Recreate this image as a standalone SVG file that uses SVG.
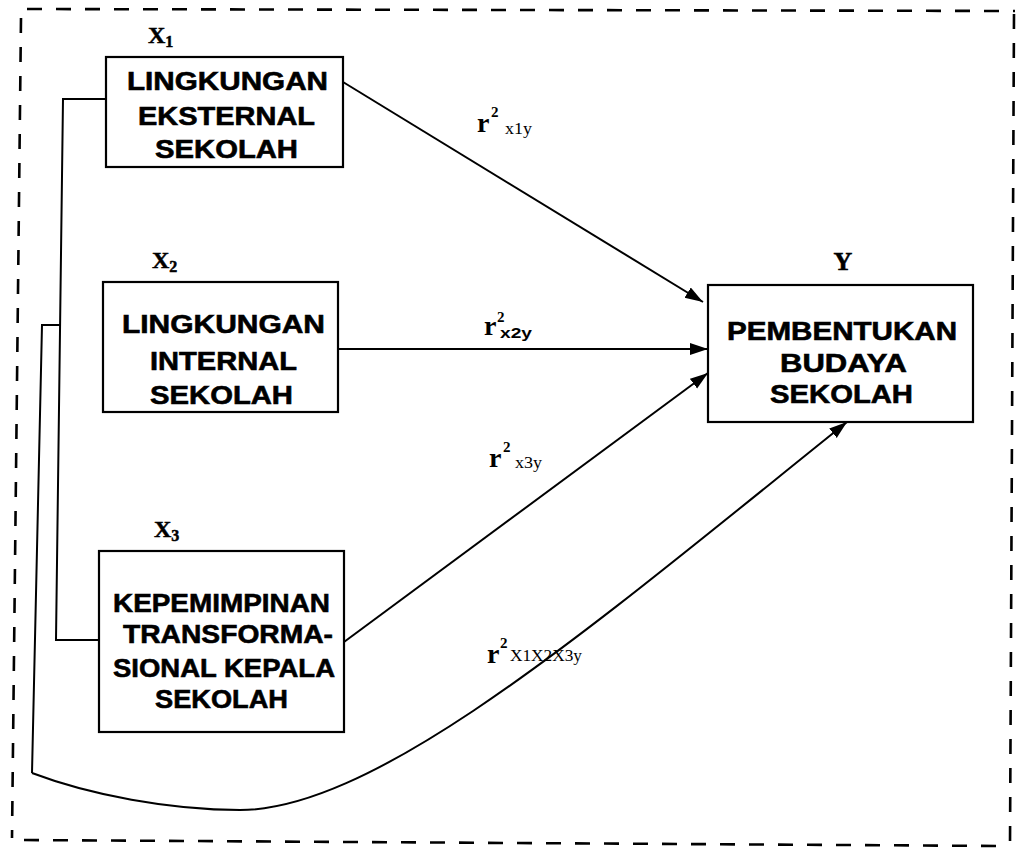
<svg xmlns="http://www.w3.org/2000/svg" width="1023" height="848" viewBox="0 0 1023 848">
<style>
.box{fill:#fff;stroke:#000;stroke-width:2.2}
.bt{font-family:"Liberation Sans",Arial,sans-serif;font-weight:bold;font-size:26px;fill:#000;stroke:#000;stroke-width:0.6;text-anchor:start}
.var{font-family:"Liberation Serif","Times New Roman",serif;font-weight:bold;fill:#000;stroke:#000;stroke-width:0.5}
.r{font-family:"Liberation Serif","Times New Roman",serif;font-weight:bold;font-size:28px;fill:#000}
.sup{font-family:"Liberation Serif","Times New Roman",serif;font-weight:bold;font-size:15px;fill:#000}
.sub{font-family:"Liberation Serif","Times New Roman",serif;font-size:16px;fill:#000}
.subb{font-family:"Liberation Sans",Arial,sans-serif;font-weight:bold;font-size:15px;fill:#000}
.ln{fill:none;stroke:#000;stroke-width:2}
.dash{fill:none;stroke:#000;stroke-width:2.6;stroke-dasharray:15 14}
</style>
<defs>
<marker id="ah" markerUnits="userSpaceOnUse" markerWidth="20" markerHeight="14" refX="18" refY="6" orient="auto">
<path d="M0,0 L18,6 L0,12 z" fill="#000"/>
</marker>
</defs>
<rect width="1023" height="848" fill="#fff"/>
<g id="frame">
<path class="dash" d="M27,9 L1015,11"/>
<path class="dash" d="M21,18 L12,838"/>
<path class="dash" d="M24,840 L1005,846"/>
<path class="dash" d="M1014,14 L1010,846"/>
</g>
<g id="connectors">
<polyline class="ln" points="106,99 63,99 56,640 99,640"/>
<polyline class="ln" points="60,325 42,325 32,773"/>
<path class="ln" d="M32,773 C90,795 170,810 240,810 C380,810 600,620 847,422" marker-end="url(#ah)"/>
<line class="ln" x1="343" y1="82" x2="703" y2="302" marker-end="url(#ah)"/>
<line class="ln" x1="339" y1="349" x2="708" y2="349" marker-end="url(#ah)"/>
<line class="ln" x1="344" y1="642" x2="708" y2="373" marker-end="url(#ah)"/>
</g>
<g id="labels">
<g id="lab1"><text class="r" x="477" y="132">r</text><text class="sup" x="491" y="117">2</text><text class="sub" x="505" y="134" textLength="27" lengthAdjust="spacingAndGlyphs">x1y</text></g>
<g id="lab2"><text class="r" x="484" y="335">r</text><text class="sup" x="497" y="322">2</text><text class="subb" x="500" y="338" textLength="32" lengthAdjust="spacingAndGlyphs">x2y</text></g>
<g id="lab3"><text class="r" x="489" y="467">r</text><text class="sup" x="503" y="452">2</text><text class="sub" x="515" y="468" textLength="27" lengthAdjust="spacingAndGlyphs">x3y</text></g>
<g id="lab4"><text class="r" x="487" y="663">r</text><text class="sup" x="500" y="648">2</text><text class="sub" x="510" y="661" font-size="13" textLength="72" lengthAdjust="spacingAndGlyphs">X1X2X3y</text></g>
</g>
<g id="x1">
<text class="var" x="148" y="43" font-size="24">X<tspan font-size="16" dy="4">1</tspan></text>
<rect class="box" x="106" y="57" width="237" height="110"/>
<text class="bt" x="127" y="90" textLength="201" lengthAdjust="spacingAndGlyphs">LINGKUNGAN</text>
<text class="bt" x="138" y="125" textLength="177" lengthAdjust="spacingAndGlyphs">EKSTERNAL</text>
<text class="bt" x="155" y="158" textLength="143" lengthAdjust="spacingAndGlyphs">SEKOLAH</text>
</g>
<g id="x2">
<text class="var" x="152" y="268" font-size="24">X<tspan font-size="16" dy="4">2</tspan></text>
<rect class="box" x="103" y="282" width="235" height="130"/>
<text class="bt" x="122" y="333" textLength="203" lengthAdjust="spacingAndGlyphs">LINGKUNGAN</text>
<text class="bt" x="150" y="370" textLength="147" lengthAdjust="spacingAndGlyphs">INTERNAL</text>
<text class="bt" x="150" y="404" textLength="143" lengthAdjust="spacingAndGlyphs">SEKOLAH</text>
</g>
<g id="x3">
<text class="var" x="154" y="537" font-size="24">X<tspan font-size="16" dy="4">3</tspan></text>
<rect class="box" x="99" y="551" width="245" height="181"/>
<text class="bt" x="113" y="612" textLength="217" lengthAdjust="spacingAndGlyphs">KEPEMIMPINAN</text>
<text class="bt" x="123" y="643" textLength="210" lengthAdjust="spacingAndGlyphs">TRANSFORMA-</text>
<text class="bt" x="113" y="677" textLength="222" lengthAdjust="spacingAndGlyphs">SIONAL KEPALA</text>
<text class="bt" x="155" y="708" textLength="133" lengthAdjust="spacingAndGlyphs">SEKOLAH</text>
</g>
<g id="y">
<text class="var" x="843" y="270" font-size="26" text-anchor="middle">Y</text>
<rect class="box" x="708" y="285" width="265" height="137"/>
<text class="bt" x="727" y="340" textLength="230" lengthAdjust="spacingAndGlyphs">PEMBENTUKAN</text>
<text class="bt" x="780" y="372" textLength="127" lengthAdjust="spacingAndGlyphs">BUDAYA</text>
<text class="bt" x="770" y="403" textLength="143" lengthAdjust="spacingAndGlyphs">SEKOLAH</text>
</g>
</svg>
